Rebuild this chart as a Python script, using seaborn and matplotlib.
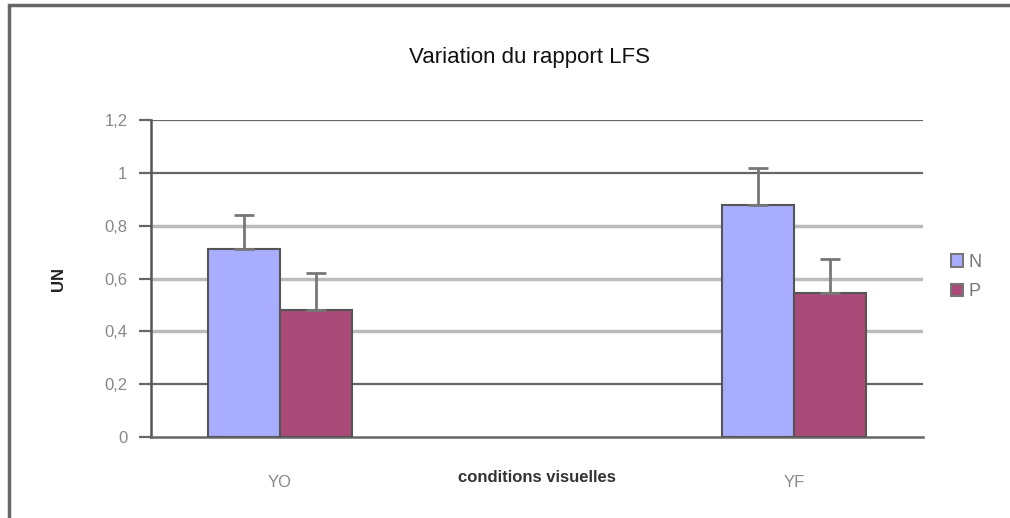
import numpy as np
import pandas as pd
import matplotlib
matplotlib.use("Agg")
import matplotlib.pyplot as plt
import seaborn as sns
from matplotlib.patches import Rectangle

# data
conditions = ["YO", "", "YF"]
groups = ["N", "P"]
n_values = [0.71, np.nan, 0.88]
p_values = [0.48, np.nan, 0.545]
n_err = [0.13, np.nan, 0.14]
p_err = [0.14, np.nan, 0.13]
colors = {"N": "#a9adff", "P": "#aa4a78"}

df = pd.DataFrame({
    "condition": conditions * 2,
    "groupe": ["N"] * 3 + ["P"] * 3,
    "valeur": n_values + p_values,
})

sns.set_style("white")
plt.rcParams["font.family"] = ["Liberation Sans", "DejaVu Sans"]

fig = plt.figure(figsize=(10.1, 5.18), dpi=100)
ax = fig.add_axes([0.1495, 0.1564, 0.7644, 0.6119])

sns.barplot(data=df, x="condition", y="valeur", hue="groupe", order=conditions,
            hue_order=groups, palette=colors, width=0.56, gap=0, saturation=1,
            edgecolor="#555555", linewidth=1.5, ax=ax, legend=False, zorder=3)

# error bars (upwards only) on top of each bar
errs = {"N": n_err, "P": p_err}
for cont, g in zip(ax.containers, groups):
    for patch in cont.patches:
        h = patch.get_height()
        xc = patch.get_x() + patch.get_width() / 2
        e = errs[g][int(round(xc))]
        if np.isnan(h) or np.isnan(e):
            continue
        ax.errorbar(xc, h, yerr=[[0], [e]], color="#777777", capsize=7,
                    capthick=2, elinewidth=2, zorder=4)

ax.set_ylim(0, 1.2)
ax.set_xlim(-0.5, 2.5)
ax.set_yticks(np.arange(0, 1.21, 0.2))
ax.set_yticklabels(["0", "0,2", "0,4", "0,6", "0,8", "1", "1,2"])
for y in np.arange(0.2, 1.21, 0.2):
    light = 0.3 < y < 0.9
    ax.axhline(y, color="#bbbbbb" if light else "#666666",
               lw=2.5 if light else 1.6, zorder=1)

for s in ["top", "right"]:
    ax.spines[s].set_visible(False)
ax.spines["left"].set_color("#555555")
ax.spines["left"].set_linewidth(1.8)
ax.spines["bottom"].set_color("#666666")
ax.spines["bottom"].set_linewidth(1.8)
ax.tick_params(axis="y", which="both", left=True, length=9, width=1.6,
               color="#666666", labelcolor="#888888", labelsize=12, pad=8)
ax.tick_params(axis="x", bottom=False, labelcolor="#888888", labelsize=12, pad=24)

ax.set_xlabel("conditions visuelles", fontsize=12, fontweight="bold", color="#333333")
ax.xaxis.set_label_coords(0.5, -0.105)
ax.set_ylabel("UN", fontsize=12, fontweight="bold", color="#222222")
ax.yaxis.set_label_coords(-0.11, 0.5)

fig.suptitle("Variation du rapport LFS", x=0.524, y=0.91, fontsize=16, color="#111111")

# legend
handles = [Rectangle((0, 0), 1, 1, facecolor=colors[g], edgecolor="#777777", lw=1.5)
           for g in groups]
leg = fig.legend(handles, groups, loc="center left", bbox_to_anchor=(0.925, 0.465),
                 frameon=False, fontsize=13, handlelength=0.7, handleheight=0.7,
                 handletextpad=0.3, labelspacing=0.7)
for t in leg.get_texts():
    t.set_color("#777777")

# outer frame of the chart
fig.patches.append(Rectangle((0.009, -0.1), 1.2, 1.09, transform=fig.transFigure,
                             fill=False, edgecolor="#666666", lw=2.5))

fig.savefig("out.png", dpi=100)
